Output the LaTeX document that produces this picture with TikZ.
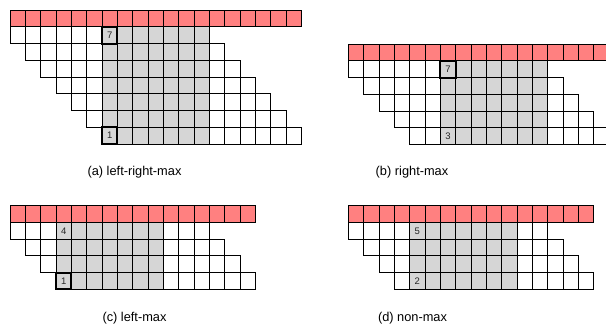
\documentclass[tikz,border=0pt]{standalone}
\usepackage{fontspec}
\setmainfont{Liberation Sans}
\usetikzlibrary{calc}
\definecolor{tilered}{RGB}{255,128,128}
\definecolor{tilegray}{RGB}{214,214,214}
\tikzset{cell/.style={draw=black,line width=1pt},
         redcell/.style={cell,fill=tilered},
         maxcell/.style={draw=black,line width=2pt},
         num/.style={font=\fontsize{9.5}{9.5}\selectfont,text=black!85},
         caption/.style={font=\fontsize{12.8}{15}\selectfont},
         panel/.style={shift={(#1)},x=15.35pt,y=-16.75pt}}
% rows, red cells, first gray column
\newcommand{\tilerows}[3]{%
  \fill[tilegray] (#3,1) rectangle (#3+7,#1+1);
  \foreach \c in {1,...,#2}
    \draw[redcell] (\c-1,0) rectangle (\c,1);
  \foreach \r in {1,...,#1}
    \foreach \c in {0,...,12}
      \draw[cell] (\r-1+\c,\r) rectangle ++(1,1);}

\begin{document}
\begin{tikzpicture}[x=1pt,y=-1pt]
  \useasboundingbox (0,0) rectangle (606,327);
  \clip (0,0) rectangle (606,327);
  % (a)
  \begin{scope}[panel={10,10}]
    \tilerows{7}{19}{6}
    \draw[maxcell] (6,1) rectangle ++(1,1);
    \draw[maxcell] (6,7) rectangle ++(1,1);
    \node[num] (a-top) at (6.5,1.5) {7};
    \node[num] (a-bot) at (6.5,7.5) {1};
  \end{scope}
  % (b)
  \begin{scope}[panel={348.3,44}]
    \tilerows{5}{19}{6}
    \draw[maxcell] (6,1) rectangle ++(1,1);
    \node[num] (b-top) at (6.5,1.5) {7};
    \node[num] (b-bot) at (6.5,5.5) {3};
  \end{scope}
  % (c)
  \begin{scope}[panel={10,205.7}]
    \tilerows{4}{16}{3}
    \draw[maxcell] (3,4) rectangle ++(1,1);
    \node[num] (c-top) at (3.5,1.5) {4};
    \node[num] (c-bot) at (3.5,4.5) {1};
  \end{scope}
  % (d)
  \begin{scope}[panel={348.3,205.7}]
    \tilerows{4}{16}{4}
    \node[num] (d-top) at (4.5,1.5) {5};
    \node[num] (d-bot) at (4.5,4.5) {2};
  \end{scope}
  \node[caption] (cap-a) at (134.5,172) {(a) left-right-max};
  \node[caption] (cap-b) at (412,172) {(b) right-max};
  \node[caption] (cap-c) at (134.5,318) {(c) left-max};
  \node[caption] (cap-d) at (412.5,318) {(d) non-max};
\end{tikzpicture}
\end{document}
